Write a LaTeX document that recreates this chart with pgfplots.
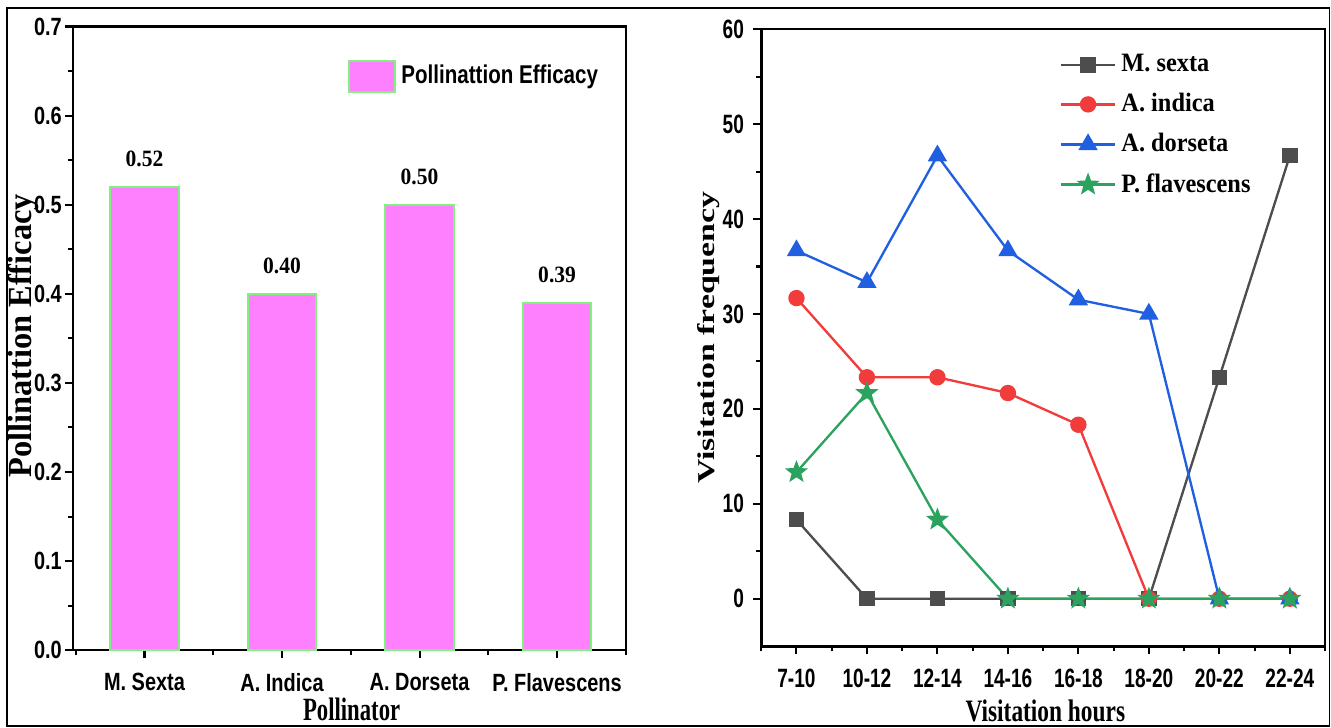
\documentclass[border=0pt]{standalone}
\usepackage{fontspec}
\setmainfont{Liberation Serif}
\newfontfamily\sansn[FakeStretch=0.80]{Liberation Sans}
\newfontfamily\sansr[FakeStretch=0.72]{Liberation Sans}
\newfontfamily\serifn[FakeStretch=0.92]{Liberation Serif}
\newfontfamily\serifxl[FakeStretch=0.70]{Liberation Serif}
\newfontfamily\serifyl[FakeStretch=0.96]{Liberation Serif}
\newfontfamily\serifxr[FakeStretch=0.75]{Liberation Serif}
\newfontfamily\serifyr[FakeStretch=1.40]{Liberation Serif}
\usepackage{pgfplots}
\pgfplotsset{compat=1.18}

\definecolor{barpink}{HTML}{FF80FF}
\definecolor{bargreen}{HTML}{80F080}
\definecolor{sgrey}{HTML}{4D4D4D}
\definecolor{sred}{HTML}{F23C3C}
\definecolor{sblue}{HTML}{1F5FE0}
\definecolor{sgreen}{HTML}{2CA25F}

% filled five-point star
\pgfdeclareplotmark{fstar}{%
  \pgfpathmoveto{\pgfpointpolar{90}{\pgfplotmarksize}}%
  \pgfpathlineto{\pgfpointpolar{126}{0.42\pgfplotmarksize}}%
  \pgfpathlineto{\pgfpointpolar{162}{\pgfplotmarksize}}%
  \pgfpathlineto{\pgfpointpolar{198}{0.42\pgfplotmarksize}}%
  \pgfpathlineto{\pgfpointpolar{234}{\pgfplotmarksize}}%
  \pgfpathlineto{\pgfpointpolar{270}{0.42\pgfplotmarksize}}%
  \pgfpathlineto{\pgfpointpolar{306}{\pgfplotmarksize}}%
  \pgfpathlineto{\pgfpointpolar{342}{0.42\pgfplotmarksize}}%
  \pgfpathlineto{\pgfpointpolar{18}{\pgfplotmarksize}}%
  \pgfpathlineto{\pgfpointpolar{54}{0.42\pgfplotmarksize}}%
  \pgfpathclose\pgfusepathqfillstroke}

\pgfplotsset{
  panel/.style={
    scale only axis,
    axis line style={line width=1pt},
    tick style={line width=0.8pt, black},
    tick align=outside,
    xtick pos=left, ytick pos=left,
    major tick length=0.11cm, minor tick length=0.07cm,
    /pgf/number format/assume math mode=true,
  }
}

\begin{document}
\begin{tikzpicture}
\useasboundingbox (0,0) rectangle (18.01,9.84);
\draw[line width=0.6pt] (0.095,0.02) rectangle (17.99,9.73);

% left panel: bars
\begin{axis}[panel,
  at={(0.988cm,1.042cm)}, anchor=south west,
  width=7.48cm, height=8.44cm,
  tick label style={font=\sansn\bfseries\fontsize{9.6}{11}\selectfont},
  ybar, bar width=0.93cm,
  xmin=-0.52, xmax=3.5, ymin=0, ymax=0.7,
  xtick={0,1,2,3},
  xticklabels={M. Sexta, A. Indica, A. Dorseta, P. Flavescens},
  xticklabel style={yshift=-0.08cm},
  minor xtick={-0.5,0.5,1.5,2.5,3.5},
  ytick={0,0.1,0.2,0.3,0.4,0.5,0.6,0.7},
  minor y tick num=1,
  yticklabel style={inner sep=1pt, /pgf/number format/.cd, fixed, fixed zerofill, precision=1},
  xlabel={Pollinator}, ylabel={Pollinattion Efficacy},
  xlabel style={at={(axis description cs:0.504,-0.095)}, anchor=center,
    font=\serifxl\bfseries\fontsize{12.5}{14}\selectfont},
  ylabel style={at={(axis description cs:-0.090,0.504)}, anchor=center, rotate=0,
    font=\serifyl\bfseries\fontsize{13}{15}\selectfont},
  nodes near coords={\pgfmathprintnumber[fixed, fixed zerofill, precision=2]{\pgfplotspointmeta}},
  nodes near coords style={font=\serifn\bfseries\fontsize{9}{10}\selectfont, yshift=0.14cm, black},
  legend style={at={(0.483,0.92)}, anchor=west, draw=none, fill=none,
    font=\sansn\bfseries\fontsize{9.9}{11}\selectfont},
  legend image code/.code={\draw[fill=barpink, draw=bargreen, line width=0.8pt]
    (0cm,-0.21cm) rectangle (0.62cm,0.21cm);},
]
\addplot[fill=barpink, draw=bargreen, line width=0.8pt]
  coordinates {(0,0.52) (1,0.40) (2,0.50) (3,0.39)};
\addlegendentry{Pollinattion Efficacy}
\end{axis}

% right panel: lines
\begin{axis}[panel,
  at={(10.30cm,1.096cm)}, anchor=south west,
  width=7.63cm, height=8.35cm,
  tick label style={font=\sansr\bfseries\fontsize{10.2}{11}\selectfont},
  xmin=-0.5, xmax=7.5, ymin=-5, ymax=60,
  xtick={0,1,2,3,4,5,6,7},
  xticklabels={7-10,10-12,12-14,14-16,16-18,18-20,20-22,22-24},
  xticklabel style={yshift=-0.08cm},
  minor xtick={-0.5,0.5,1.5,2.5,3.5,4.5,5.5,6.5,7.5},
  ytick={0,10,20,30,40,50,60},
  minor y tick num=1,
  xlabel={Visitation hours}, ylabel={Visitation frequency},
  xlabel style={at={(axis description cs:0.504,-0.105)}, anchor=center,
    font=\serifxr\bfseries\fontsize{12}{14}\selectfont},
  ylabel style={at={(axis description cs:-0.094,0.50)}, anchor=center, rotate=0,
    font=\serifyr\bfseries\fontsize{9.3}{11}\selectfont},
  legend style={at={(0.515,0.977)}, anchor=north west, draw=none, fill=none,
    font=\serifn\bfseries\fontsize{10.2}{12}\selectfont, row sep=0.1cm},
  legend cell align=left,
  legend image code/.code={\draw[mark repeat=2, mark phase=2]
    plot coordinates {(0cm,0cm) (0.365cm,0cm) (0.73cm,0cm)};},
]
\addplot[sgrey, line width=0.9pt, mark=square*, mark size=2.5pt]
  coordinates {(0,8.33) (1,0) (2,0) (3,0) (4,0) (5,0) (6,23.33) (7,46.67)};
\addlegendentry{M. sexta}
\addplot[sred, line width=0.9pt, mark=*, mark size=2.7pt]
  coordinates {(0,31.67) (1,23.33) (2,23.33) (3,21.67) (4,18.33) (5,0) (6,0) (7,0)};
\addlegendentry{A. indica}
\addplot[sblue, line width=0.9pt, mark=triangle*, mark size=3.4pt]
  coordinates {(0,36.67) (1,33.33) (2,46.67) (3,36.67) (4,31.5) (5,30) (6,0) (7,0)};
\addlegendentry{A. dorseta}
\addplot[sgreen, line width=0.9pt, mark=fstar, mark size=3.4pt]
  coordinates {(0,13.33) (1,21.67) (2,8.33) (3,0) (4,0) (5,0) (6,0) (7,0)};
\addlegendentry{P. flavescens}
\end{axis}
\end{tikzpicture}
\end{document}
